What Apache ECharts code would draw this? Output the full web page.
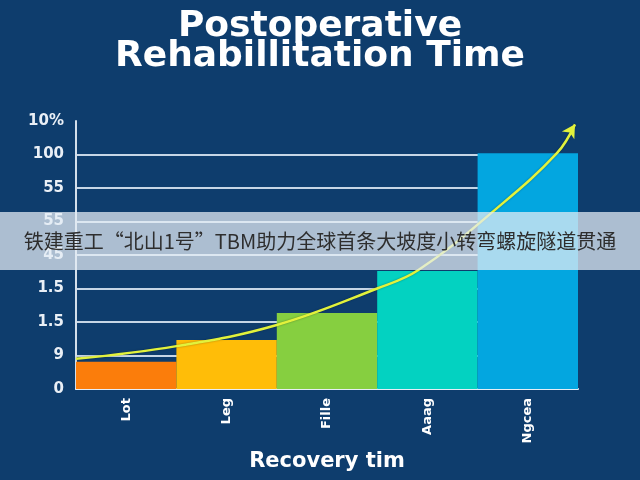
<!DOCTYPE html>
<html>
<head>
<meta charset="utf-8">
<script src="https://cdn.jsdelivr.net/npm/echarts@6/dist/echarts.min.js"></script>
<style>
html,body{margin:0;padding:0;background:#0e3d6d;}
#chart{width:640px;height:480px;}
</style>
</head>
<body>
<div id="chart"></div>
<script>
// Data
var categories = ['Lot', 'Leg', 'Fille', 'Aaag', 'Ngcea'];
var barValues = [0.81, 1.46, 2.27, 3.52, 7.04];
var barColors = ['#fb7d0b', '#ffbd08', '#86cf40', '#03d2c1', '#03a6e0'];
var yTickLabels = ['0', '9', '1.5', '1.5', '45', '55', '55', '100', '10%'];
var curveX = [0, 1, 2, 3, 3.41, 4.17, 4.79, 4.97];
var curveY = [0.9, 1.28, 1.91, 3.0, 3.55, 5.34, 7.04, 7.9];
var titleText = 'Postoperative\nRehabillitation Time';
var xAxisTitle = 'Recovery tim';
var bannerText = '铁建重工“北山1号”TBM助力全球首条大坡度小转弯螺旋隧道贯通';

var chart = echarts.init(document.getElementById('chart'));

var curveData = curveX.map(function (x, i) {
  var item = { value: [x, curveY[i]] };
  if (i === curveX.length - 1) {
    item.symbol = 'arrow';
    item.symbolSize = [11, 13];
    item.symbolRotate = -32;
    item.itemStyle = { color: '#e2f23c' };
  }
  return item;
});

chart.setOption({
  backgroundColor: '#0e3d6d',
  animation: false,
  title: {
    text: titleText,
    left: 'center',
    top: 7,
    textStyle: {
      color: '#ffffff',
      fontSize: 36,
      fontWeight: 'bold',
      fontFamily: 'DejaVu Sans',
      lineHeight: 30
    }
  },
  grid: { left: 76, right: 62, top: 121, bottom: 91 },
  xAxis: [
    {
      type: 'category',
      data: categories,
      boundaryGap: true,
      axisLine: { show: true, lineStyle: { color: '#e6eef6', width: 2 } },
      axisTick: { show: false },
      axisLabel: {
        rotate: 90,
        color: '#ffffff',
        fontSize: 13,
        fontWeight: 'bold',
        fontFamily: 'DejaVu Sans',
        margin: 9
      },
      name: xAxisTitle,
      nameLocation: 'middle',
      nameGap: 61,
      nameTextStyle: {
        color: '#ffffff',
        fontSize: 21,
        fontWeight: 'bold',
        fontFamily: 'DejaVu Sans'
      }
    },
    {
      type: 'value',
      min: 0,
      max: 5,
      show: false
    }
  ],
  yAxis: {
    type: 'value',
    min: 0,
    max: 8,
    interval: 1,
    axisLine: { show: true, lineStyle: { color: '#d3dfeb', width: 2 } },
    axisTick: { show: false },
    axisLabel: {
      color: '#e9eff6',
      fontSize: 15,
      fontWeight: 'bold',
      fontFamily: 'DejaVu Sans',
      margin: 12,
      formatter: function (v) { return yTickLabels[Math.round(v)]; }
    },
    splitLine: {
      show: true,
      showMaxLine: false,
      showMinLine: false,
      lineStyle: { color: '#c6d6e6', width: 2 }
    }
  },
  series: [
    {
      type: 'bar',
      data: barValues.map(function (v, i) {
        return { value: v, itemStyle: { color: barColors[i] } };
      }),
      barWidth: '100%',
      barCategoryGap: 0,
      z: 2
    },
    {
      type: 'line',
      xAxisIndex: 1,
      data: curveData,
      smooth: 0.4,
      symbol: 'none',
      lineStyle: {
        color: '#e2f23c',
        width: 2.5,
        shadowColor: 'rgba(0,0,0,0.35)',
        shadowBlur: 2
      },
      z: 5
    }
  ],
  graphic: [
    {
      type: 'rect',
      shape: { x: 0, y: 212, width: 640, height: 58 },
      style: { fill: 'rgba(228,236,244,0.74)' },
      z: 100
    },
    {
      type: 'text',
      x: 320,
      y: 241,
      style: {
        text: bannerText,
        fill: '#2e2e2e',
        fontSize: 20,
        fontFamily: 'Noto Sans CJK SC',
        align: 'center',
        verticalAlign: 'middle'
      },
      z: 101
    }
  ]
});
</script>
</body>
</html>
